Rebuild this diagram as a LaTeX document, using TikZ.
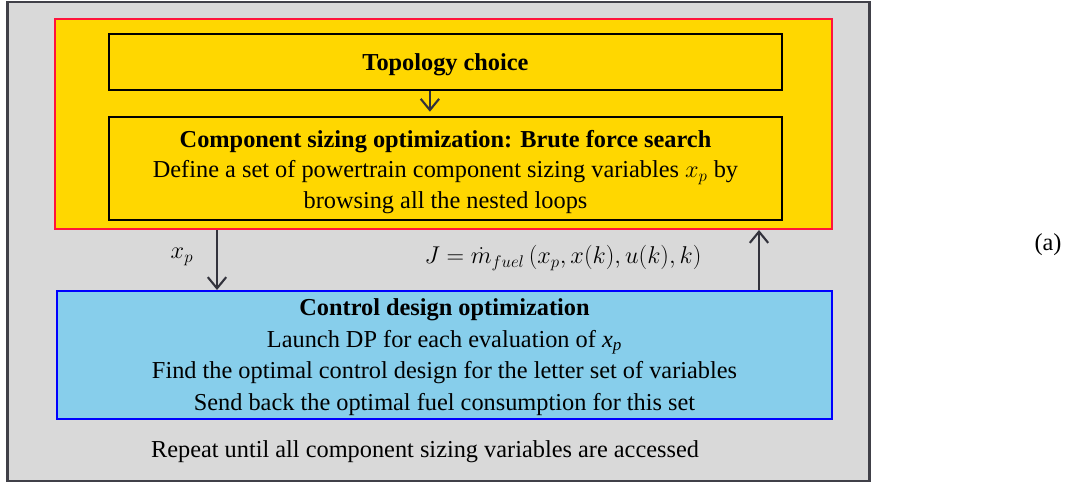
\documentclass[tikz,border=0pt]{standalone}
\usepackage{fontspec}
\setmainfont{Liberation Serif}
\usetikzlibrary{arrows.meta}
\definecolor{boxgray}{RGB}{217,217,217}
\definecolor{edgegray}{RGB}{64,64,72}
\definecolor{gold}{RGB}{255,215,0}
\definecolor{redline}{RGB}{255,20,60}
\definecolor{sky}{RGB}{135,206,235}
\definecolor{blueline}{RGB}{0,0,255}
\definecolor{arrowgray}{RGB}{50,50,60}
\begin{document}
\begin{tikzpicture}[line join=miter,x=0.025cm,y=-0.025cm,font=\fontsize{17.3}{21.5}\selectfont,
  stagebox/.style={draw=black,line width=1.8pt,fill=gold,inner sep=0pt,minimum width=16.825cm},
  arr/.style={-{Straight Barb[length=2.8mm,width=4.6mm,line width=1.5pt]},line width=1.5pt,draw=arrowgray}]
 \useasboundingbox (0,0) rectangle (1075,486);
 \node[draw=edgegray,line width=1.8pt,fill=boxgray,minimum width=21.55cm,minimum height=11.975cm] (outer) at (438.5,241.5) {};
 \node[draw=redline,line width=1.4pt,fill=gold,minimum width=19.425cm,minimum height=5.25cm] (sizing) at (443.5,124) {};
 \node[stagebox,minimum height=1.4cm] (topo) at (445.5,62) {};
 \node[stagebox,minimum height=2.575cm] (comp) at (445.5,168.5) {};
 \node[draw=blueline,line width=1.4pt,fill=sky,inner sep=0pt,minimum width=19.375cm,minimum height=3.2cm] (ctrl) at (444.5,355) {};
 % box texts
 \node (topotext) at (445.5,65) {\textbf{Topology choice}};
 \node[align=center] (comptext) at (445.5,172) {\textbf{Component sizing optimization: Brute force search}\\
   Define a set of powertrain component sizing variables $x_p$ by\\ browsing all the nested loops};
 \node[align=center,font=\fontsize{17.3}{22.5}\selectfont] (ctrltext) at (444.5,357)
   {\textbf{Control design optimization}\\ Launch DP for each evaluation of \textit{x\textsubscript{p}}\\
    Find the optimal control design for the letter set of variables\\ Send back the optimal fuel consumption for this set};
 \node (xp) at (182,257) {$x_p$};
 \node (cost) at (563,258) {$J=\dot m_{fuel}\,\bigl(x_p,x(k),u(k),k\bigr)$};
 \node (repeat) at (425,452) {Repeat until all component sizing variables are accessed};
 \node (tag) at (1048,245) {(a)};
 \draw[arr] ([xshift=-0.39cm]topo.south) -- ([xshift=-0.39cm,yshift=0.1cm]comp.north);
 \draw[arr] (sizing.south -| 217,0) -- (ctrl.north -| 217,0);
 \draw[arr] (ctrl.north -| 759,0) -- (sizing.south -| 759,0);
\end{tikzpicture}
\end{document}
